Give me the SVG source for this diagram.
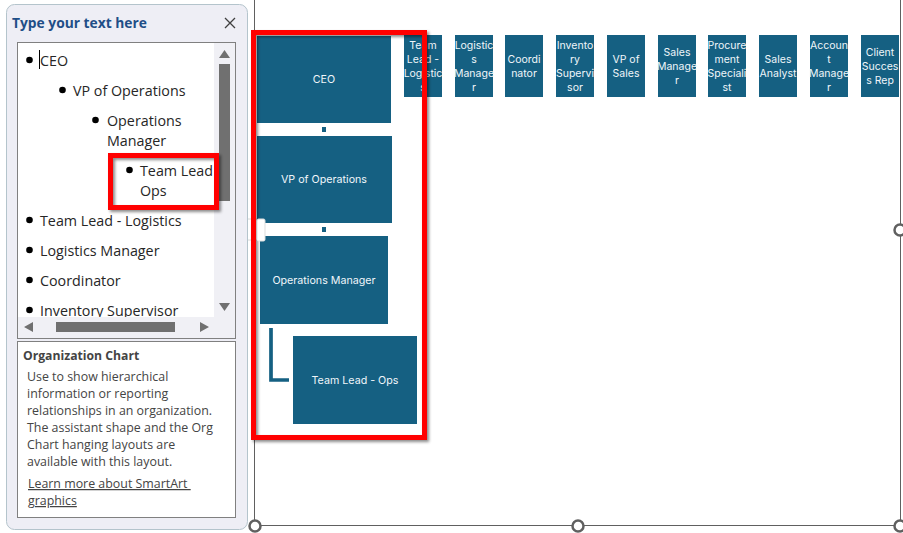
<svg xmlns="http://www.w3.org/2000/svg" width="903" height="533" viewBox="0 0 903 533">
<defs>
<filter id="sh" x="-10%" y="-10%" width="125%" height="125%"><feDropShadow dx="2" dy="2" stdDeviation="1.500" flood-color="#000" flood-opacity=".45"/></filter>
</defs>
<style>
.ui{font-family:"Open Sans","Noto Sans","Liberation Sans",sans-serif;fill:#262626;font-size:14.300px}
.d{font-family:"Open Sans","Noto Sans","Liberation Sans",sans-serif;fill:#444;font-size:12.400px;white-space:pre}
.box{fill:#156082}
.t{font-family:"Inter","Noto Sans","Liberation Sans",sans-serif;fill:#f0f6fa;text-anchor:middle;font-size:10.700px}
.s{font-family:"Inter","Noto Sans","Liberation Sans",sans-serif;fill:#f0f6fa;text-anchor:middle;font-size:10.500px}
.red{fill:none;stroke:#ff0000;stroke-width:5;filter:url(#sh)}
.h{fill:#fff;stroke:#606060;stroke-width:2.500}
.b{fill:#000}
.sb{fill:#707070}
</style>
<rect width="903" height="533" fill="#fff"/>
<g id="frame" fill="none" stroke="#606060" stroke-width="1">
<path d="M254.500 0V525.500H900.500V0"/>
<path d="M248 219H257M248 240H257" stroke="#d8d8d8"/>
</g>
<g id="panel">
<rect x="6.500" y="4.500" width="241" height="525" rx="8" fill="#eeeef5" stroke="#b4c4cc"/>
<text x="12" y="28" style="font-family:'Open Sans','Noto Sans',sans-serif;font-size:13.800px;font-weight:700;fill:#1f4e87">Type your text here</text>
<path d="M225 18l10 10M235 18l-10 10" stroke="#404040" stroke-width="1.300" fill="none"/>
<rect x="17.500" y="42.500" width="218" height="296" fill="#fff" stroke="#808080"/>
<rect x="214" y="43" width="21" height="295" fill="#f0f0f5"/>
<rect x="18" y="317" width="217" height="21" fill="#f0f0f5"/>
<rect x="219" y="64" width="11" height="137" class="sb"/>
<rect x="56" y="322" width="119" height="10" class="sb"/>
<path class="sb" d="M219 58l5.500-8 5.500 8zM219 303h11l-5.500 8zM33 322v10l-9-5zM200 322v10l9-5z"/>
<path d="M39.500 50V69" stroke="#000"/>
<circle class="b" cx="29.500" cy="60" r="3.300"/><text class="ui" x="40" y="66">CEO</text>
<circle class="b" cx="62.500" cy="90" r="3.300"/><text class="ui" x="73" y="96">VP of Operations</text>
<circle class="b" cx="95.500" cy="120" r="3.300"/><text class="ui" x="107" y="126">Operations</text><text class="ui" x="107" y="146">Manager</text>
<circle class="b" cx="129.500" cy="170" r="3.300"/><text class="ui" x="140" y="176">Team Lead</text><text class="ui" x="140" y="196">Ops</text>
<circle class="b" cx="29.500" cy="220" r="3.300"/><text class="ui" x="40" y="226">Team Lead - Logistics</text>
<circle class="b" cx="29.500" cy="250" r="3.300"/><text class="ui" x="40" y="256">Logistics Manager</text>
<circle class="b" cx="29.500" cy="280" r="3.300"/><text class="ui" x="40" y="286">Coordinator</text>
<circle class="b" cx="29.500" cy="310" r="3.300"/>
<svg x="18" y="296" width="196" height="21" viewBox="18 296 196 21"><text class="ui" x="40" y="316">Inventory Supervisor</text></svg>
<rect x="17.500" y="341.500" width="218" height="176" fill="#fff" stroke="#808080"/>
<text x="23" y="360" style="font-family:'Open Sans','Noto Sans',sans-serif;font-size:12.200px;font-weight:700;fill:#444">Organization Chart</text>
<text class="d" x="27" y="381">Use to show hierarchical</text>
<text class="d" x="27" y="398">information or reporting</text>
<text class="d" x="27" y="415">relationships in an organization.</text>
<text class="d" x="27" y="432">The assistant shape and the Org</text>
<text class="d" x="27" y="449">Chart hanging layouts are</text>
<text class="d" x="27" y="466">available with this layout.</text>
<text class="d" x="28" y="488" text-decoration="underline">Learn more about SmartArt </text>
<text class="d" x="28" y="505" text-decoration="underline">graphics</text>
</g>
<g id="connectors" fill="none" stroke="#156082">
<rect x="322" y="127" width="4" height="5" fill="#156082" stroke="none"/>
<rect x="322" y="227" width="4" height="5" fill="#156082" stroke="none"/>
<path d="M271 328V380H289" stroke-width="3.700"/>
</g>
<g id="n-ceo"><rect class="box" x="257" y="36" width="134" height="87"/><text class="t" x="324" y="83">CEO</text></g>
<g id="n-vp-ops"><rect class="box" x="257" y="136" width="135" height="87"/><text class="t" x="324" y="183">VP of Operations</text></g>
<g id="n-ops-mgr"><rect class="box" x="260" y="236" width="128" height="88"/><text class="t" x="324" y="284">Operations Manager</text></g>
<g id="n-tl-ops"><rect class="box" x="293" y="336" width="124" height="88"/><text class="t" x="355" y="384">Team Lead - Ops</text></g>
<g id="n-tl-log"><rect class="box" x="404" y="35" width="38" height="62"/><text class="s" x="423" y="49">Team</text><text class="s" x="423" y="63">Lead -</text><text class="s" x="423" y="77">Logistic</text><text class="s" x="423" y="91">s</text></g>
<g id="n-log-mgr"><rect class="box" x="455" y="35" width="38" height="62"/><text class="s" x="474" y="49">Logistic</text><text class="s" x="474" y="63">s</text><text class="s" x="474" y="77">Manage</text><text class="s" x="474" y="91">r</text></g>
<g id="n-coord"><rect class="box" x="505" y="35" width="38" height="62"/><text class="s" x="524" y="63">Coordi</text><text class="s" x="524" y="77">nator</text></g>
<g id="n-inv"><rect class="box" x="556" y="35" width="38" height="62"/><text class="s" x="575" y="49">Invento</text><text class="s" x="575" y="63">ry</text><text class="s" x="575" y="77">Supervi</text><text class="s" x="575" y="91">sor</text></g>
<g id="n-vp-sales"><rect class="box" x="607" y="35" width="38" height="62"/><text class="s" x="626" y="63">VP of</text><text class="s" x="626" y="77">Sales</text></g>
<g id="n-sales-mgr"><rect class="box" x="658" y="35" width="38" height="62"/><text class="s" x="677" y="56">Sales</text><text class="s" x="677" y="70">Manage</text><text class="s" x="677" y="84">r</text></g>
<g id="n-proc"><rect class="box" x="708" y="35" width="38" height="62"/><text class="s" x="727" y="49">Procure</text><text class="s" x="727" y="63">ment</text><text class="s" x="727" y="77">Speciali</text><text class="s" x="727" y="91">st</text></g>
<g id="n-analyst"><rect class="box" x="759" y="35" width="38" height="62"/><text class="s" x="778" y="63">Sales</text><text class="s" x="778" y="77">Analyst</text></g>
<g id="n-acct"><rect class="box" x="810" y="35" width="38" height="62"/><text class="s" x="829" y="49">Accoun</text><text class="s" x="829" y="63">t</text><text class="s" x="829" y="77">Manage</text><text class="s" x="829" y="91">r</text></g>
<g id="n-client"><rect class="box" x="861" y="35" width="38" height="62"/><text class="s" x="880" y="56">Client</text><text class="s" x="880" y="70">Succes</text><text class="s" x="880" y="84">s Rep</text></g>
<g id="highlights">
<rect x="253.500" y="32.500" width="171" height="405" class="red"/>
<rect x="110.500" y="155.500" width="106" height="52" class="red"/>
</g>
<g id="handles">
<rect x="257" y="219" width="8" height="22" rx="1.500" fill="#fff" stroke="#ddd"/>
<circle class="h" cx="255" cy="526" r="5.500"/>
<circle class="h" cx="578" cy="526" r="5.500"/>
<circle class="h" cx="900" cy="526" r="5.500"/>
<circle class="h" cx="900" cy="230" r="5.500"/>
</g>
</svg>
